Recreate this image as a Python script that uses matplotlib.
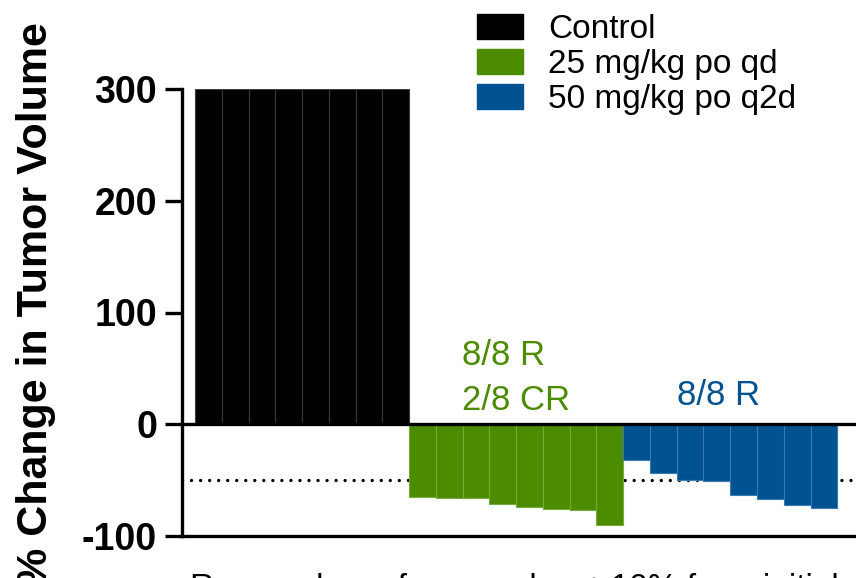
"""Waterfall chart: % change in tumor volume per animal, by treatment group."""

import matplotlib
matplotlib.use('Agg')
import matplotlib.pyplot as plt
import matplotlib.patches as mpatches
import numpy as np

plt.rcParams['font.family'] = ['Liberation Sans', 'DejaVu Sans']

# Data
groups = ['Control', '25 mg/kg po qd', '50 mg/kg po q2d']
control = [300, 300, 300, 300, 300, 300, 300, 300]
dose_25 = [-65, -66, -66, -71, -74, -76, -77, -90]
dose_50 = [-32, -44, -50, -51, -63, -67, -72, -75]
y_ticks = [-100, 0, 100, 200, 300]
threshold = -50

BLACK = '#000000'
GREEN = '#4C8C00'
BLUE = '#005291'

fig = plt.figure(figsize=(8.56, 5.78), dpi=100)
ax = fig.add_axes([182 / 856, 42 / 578, 1 - 182 / 856, 447 / 578])
ax.patch.set_alpha(0)

series = [(control, BLACK, '#3a3a3a'), (dose_25, GREEN, '#74ad3c'), (dose_50, BLUE, '#3a7ab0')]
start = 0
for vals, col, edge in series:
    x = np.arange(start, start + len(vals))
    ax.bar(x, vals, width=1.0, color=col, edgecolor=edge, linewidth=0.8, zorder=2)
    start += len(vals)

# zero line and response threshold
ax.axhline(0, color='black', linewidth=2.4, zorder=3)
ax.axhline(threshold, color='black', linestyle=(0, (0.01, 2.7)), linewidth=2.4,
           dash_capstyle='round', zorder=1)

ax.set_xlim(-0.985, 24.2)
ax.set_ylim(-100, 300)
ax.set_yticks(y_ticks)
ax.set_yticklabels([str(t) for t in y_ticks], fontsize=27, fontweight='bold')
ax.set_xticks([])

for side in ['top', 'right']:
    ax.spines[side].set_visible(False)
for side in ['left', 'bottom']:
    ax.spines[side].set_linewidth(2.4)
ax.spines['left'].set_zorder(4)
ax.tick_params(axis='y', direction='out', length=12, width=2.4, pad=6)

# group annotations
ax.text(9.46, 52.8, '8/8 R', color=GREEN, fontsize=25, va='baseline', ha='left')
ax.text(9.46, 12.5, '2/8 CR', color=GREEN, fontsize=25, va='baseline', ha='left')
ax.text(17.52, 17, '8/8 R', color=BLUE, fontsize=25, va='baseline', ha='left')

# legend
handles = [mpatches.Patch(color=c) for c in (BLACK, GREEN, BLUE)]
fig.legend(handles, groups, loc='upper left', bbox_to_anchor=(477 / 856, 1 - 14 / 578),
           frameon=False, fontsize=24, handlelength=1.38, handleheight=0.75,
           handletextpad=0.75, labelspacing=0.12, borderpad=0, borderaxespad=0)

# axis labels (cropped at the figure edges, as in the source)
fig.text(36 / 856, 1 - 304 / 578, '% Change in Tumor Volume', rotation=90,
         fontsize=31, fontweight='bold', ha='center', va='center')
fig.text(190 / 856, 1 - 573 / 578, 'Responders of responders \u226510% from initial',
         fontsize=24, ha='left', va='top')

fig.savefig('out.png', dpi=100)
